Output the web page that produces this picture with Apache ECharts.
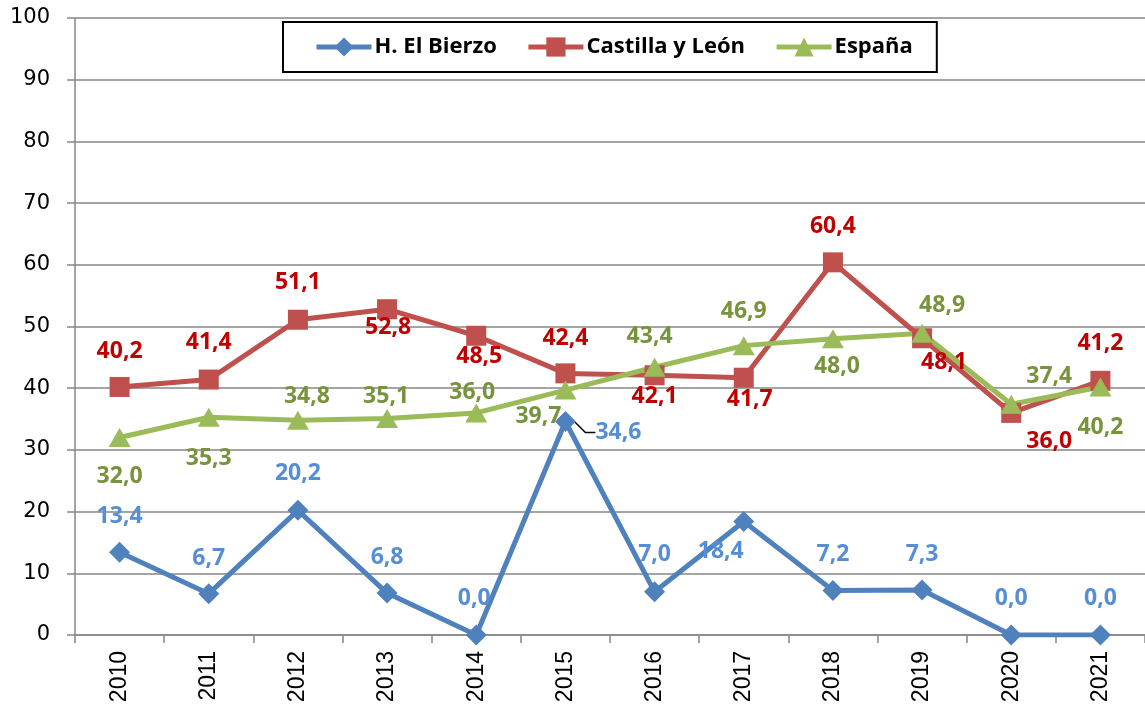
<!DOCTYPE html>
<html lang="es">

<head>
    <meta charset="UTF-8">
    <meta name="viewport" content="width=device-width, initial-scale=1.0">
    <script src="https://cdn.jsdelivr.net/npm/echarts@6/dist/echarts.min.js"></script>
    <style>
        html, body { margin: 0; padding: 0; background: #fff; }
        #chart { width: 1145px; height: 711px; }
    </style>
    <title>Chart</title>
</head>

<body>
    <div id="chart"></div>
    <script type="text/javascript">
        // datos
        var years = ['2010', '2011', '2012', '2013', '2014', '2015', '2016', '2017', '2018', '2019', '2020', '2021'];
        var bierzo = [13.4, 6.7, 20.2, 6.8, 0.0, 34.6, 7.0, 18.4, 7.2, 7.3, 0.0, 0.0];
        var castilla = [40.2, 41.4, 51.1, 52.8, 48.5, 42.4, 42.1, 41.7, 60.4, 48.1, 36.0, 41.2];
        var espana = [32.0, 35.3, 34.8, 35.1, 36.0, 39.7, 43.4, 46.9, 48.0, 48.9, 37.4, 40.2];

        // desplazamiento de las etiquetas respecto al punto (px)
        var bierzoOffsets = [[0, -36], [0, -35], [0, -37], [0, -36], [-2, -37], [53, 11], [0, -37], [-23, 30], [0, -36], [0, -36], [0, -37], [0, -37]];
        var castillaOffsets = [[0, -36], [0, -37], [0, -37], [1, 18], [3, 21], [0, -35], [0, 21], [6, 22], [0, -36], [22, 24], [38, 29], [0, -37]];
        var espanaOffsets = [[0, 39], [0, 41], [9, -24], [-1, -22], [-4, -20], [-27, 26], [-5, -31], [0, -34], [4, 28], [20, -28], [38, -28], [0, 40]];

        var labelFont = 'Open Sans';

        function fmt(p) {
            return p.value.toFixed(1).replace('.', ',');
        }

        function buildData(values, leaderIdx) {
            return values.map(function (v, i) {
                var item = { value: v };
                if (i === leaderIdx) {
                    item.labelLine = { show: true, length2: 10, smooth: false, lineStyle: { color: '#000', width: 1.5 } };
                }
                return item;
            });
        }

        function makeSeries(name, values, offsets, lineColor, labelColor, symbol, size, leaderIdx) {
            return {
                name: name,
                type: 'line',
                data: buildData(values, leaderIdx),
                symbol: symbol,
                symbolSize: size,
                lineStyle: { color: lineColor, width: 5 },
                itemStyle: { color: lineColor },
                label: {
                    show: true,
                    position: 'inside',
                    formatter: fmt,
                    color: labelColor,
                    fontFamily: labelFont,
                    fontWeight: 'bold',
                    fontSize: 23
                },
                labelLayout: function (p) {
                    var o = offsets[p.dataIndex];
                    return { dx: o[0], dy: o[1] };
                },
                emphasis: { disabled: true },
                animation: false
            };
        }

        var chart = echarts.init(document.getElementById('chart'));
        var option = {
            backgroundColor: '#fff',
            grid: { left: 75, top: 18, width: 1073, height: 617 },
            legend: {
                left: 283,
                top: 22,
                padding: [14, 24, 14, 31],
                itemGap: 29,
                itemWidth: 55,
                itemHeight: 24,
                borderColor: '#000',
                borderWidth: 2,
                backgroundColor: '#fff',
                lineStyle: { width: 5 },
                textStyle: { fontFamily: labelFont, fontWeight: 'bold', fontSize: 22, color: '#000', padding: [0, 0, 0, -2] },
                data: ['H. El Bierzo', 'Castilla y León', 'España']
            },
            xAxis: {
                type: 'category',
                data: years,
                boundaryGap: true,
                axisLine: { lineStyle: { color: '#868686', width: 1.5 } },
                axisTick: { show: true, length: 8, lineStyle: { color: '#868686', width: 1.5 } },
                axisLabel: {
                    rotate: 90,
                    margin: 16,
                    fontFamily: 'Liberation Sans',
                    fontSize: 23,
                    color: '#000'
                },
                splitLine: { show: false }
            },
            yAxis: {
                type: 'value',
                min: 0,
                max: 100,
                interval: 10,
                axisLine: { show: true, lineStyle: { color: '#868686', width: 1.5 } },
                axisTick: { show: true, length: 8, lineStyle: { color: '#868686', width: 1.5 } },
                axisLabel: {
                    margin: 25,
                    fontFamily: 'DejaVu Sans',
                    fontSize: 21,
                    color: '#000'
                },
                splitLine: { lineStyle: { color: '#868686', width: 1.5 } }
            },
            series: [
                makeSeries('H. El Bierzo', bierzo, bierzoOffsets, '#4F81BD', '#558ED5', 'diamond', 21, 5),
                makeSeries('Castilla y León', castilla, castillaOffsets, '#C0504D', '#C00000', 'rect', 20, -1),
                makeSeries('España', espana, espanaOffsets, '#9BBB59', '#77933C', 'triangle', [22, 19], -1)
            ]
        };
        chart.setOption(option);
    </script>
</body>

</html>
